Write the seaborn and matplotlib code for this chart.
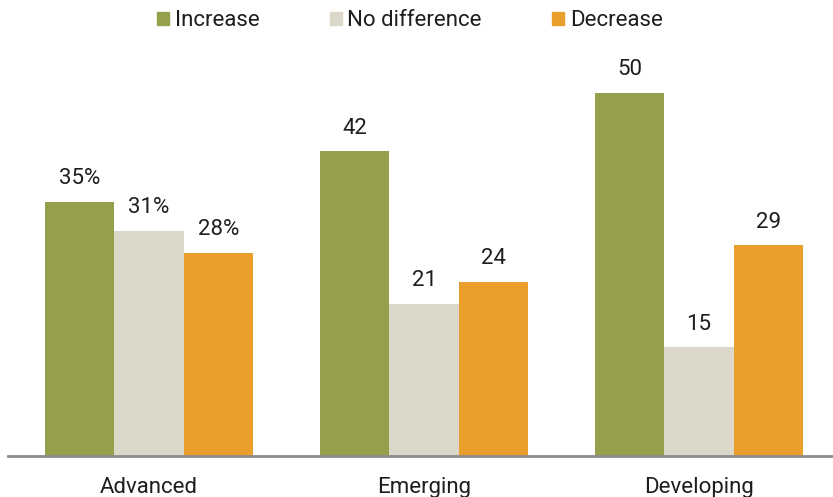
import matplotlib
matplotlib.use("Agg")
import matplotlib.pyplot as plt
import seaborn as sns
import pandas as pd

# Survey results by economy type
groups = ["Advanced", "Emerging", "Developing"]
responses = ["Increase", "No difference", "Decrease"]
increase = [35, 42, 50]
no_difference = [31, 21, 15]
decrease = [28, 24, 29]
colors = ["#969F4B", "#DBD8C9", "#EA9F2D"]

df = pd.DataFrame({
    "group": groups * 3,
    "response": [r for r in responses for _ in groups],
    "value": increase + no_difference + decrease,
})

sns.set_theme(style="white")
plt.rcParams["font.family"] = ["Roboto", "DejaVu Sans"]

fig = plt.figure(figsize=(8.33, 4.97), dpi=100)
ax = fig.add_axes([0.0096, 0.0825, 0.9904, 0.9175])

sns.barplot(data=df, x="group", y="value", hue="response", order=groups,
            hue_order=responses, palette=colors, width=0.758, gap=0,
            saturation=1, linewidth=0, ax=ax, legend=False)

ax.set_xlim(-0.513, 2.487)
ax.set_ylim(0, 62.8)

# Value labels: percent sign only on the first group
for cont in ax.containers:
    labels = [f"{b.get_height():.0f}%" if i == 0 else f"{b.get_height():.0f}"
              for i, b in enumerate(cont)]
    ax.bar_label(cont, labels=labels, padding=9, fontsize=16, color="#1E1E1E")

for s in ["top", "right", "left"]:
    ax.spines[s].set_visible(False)
ax.spines["bottom"].set_color("#8C8C8C")
ax.spines["bottom"].set_linewidth(2)
ax.set_yticks([])
ax.set_xlabel("")
ax.set_ylabel("")
ax.tick_params(axis="x", length=0, pad=15, labelsize=16, labelcolor="#1E1E1E")

handles = [plt.Rectangle((0, 0), 1, 1, color=c) for c in colors]
fig.legend(handles, responses, loc="upper center", bbox_to_anchor=(0.492, 1.02),
           ncol=3, frameon=False, fontsize=16, handlelength=0.55,
           handleheight=0.55, handletextpad=0.25, columnspacing=3.15,
           labelcolor="#1E1E1E")

fig.savefig("out.png", dpi=100)
